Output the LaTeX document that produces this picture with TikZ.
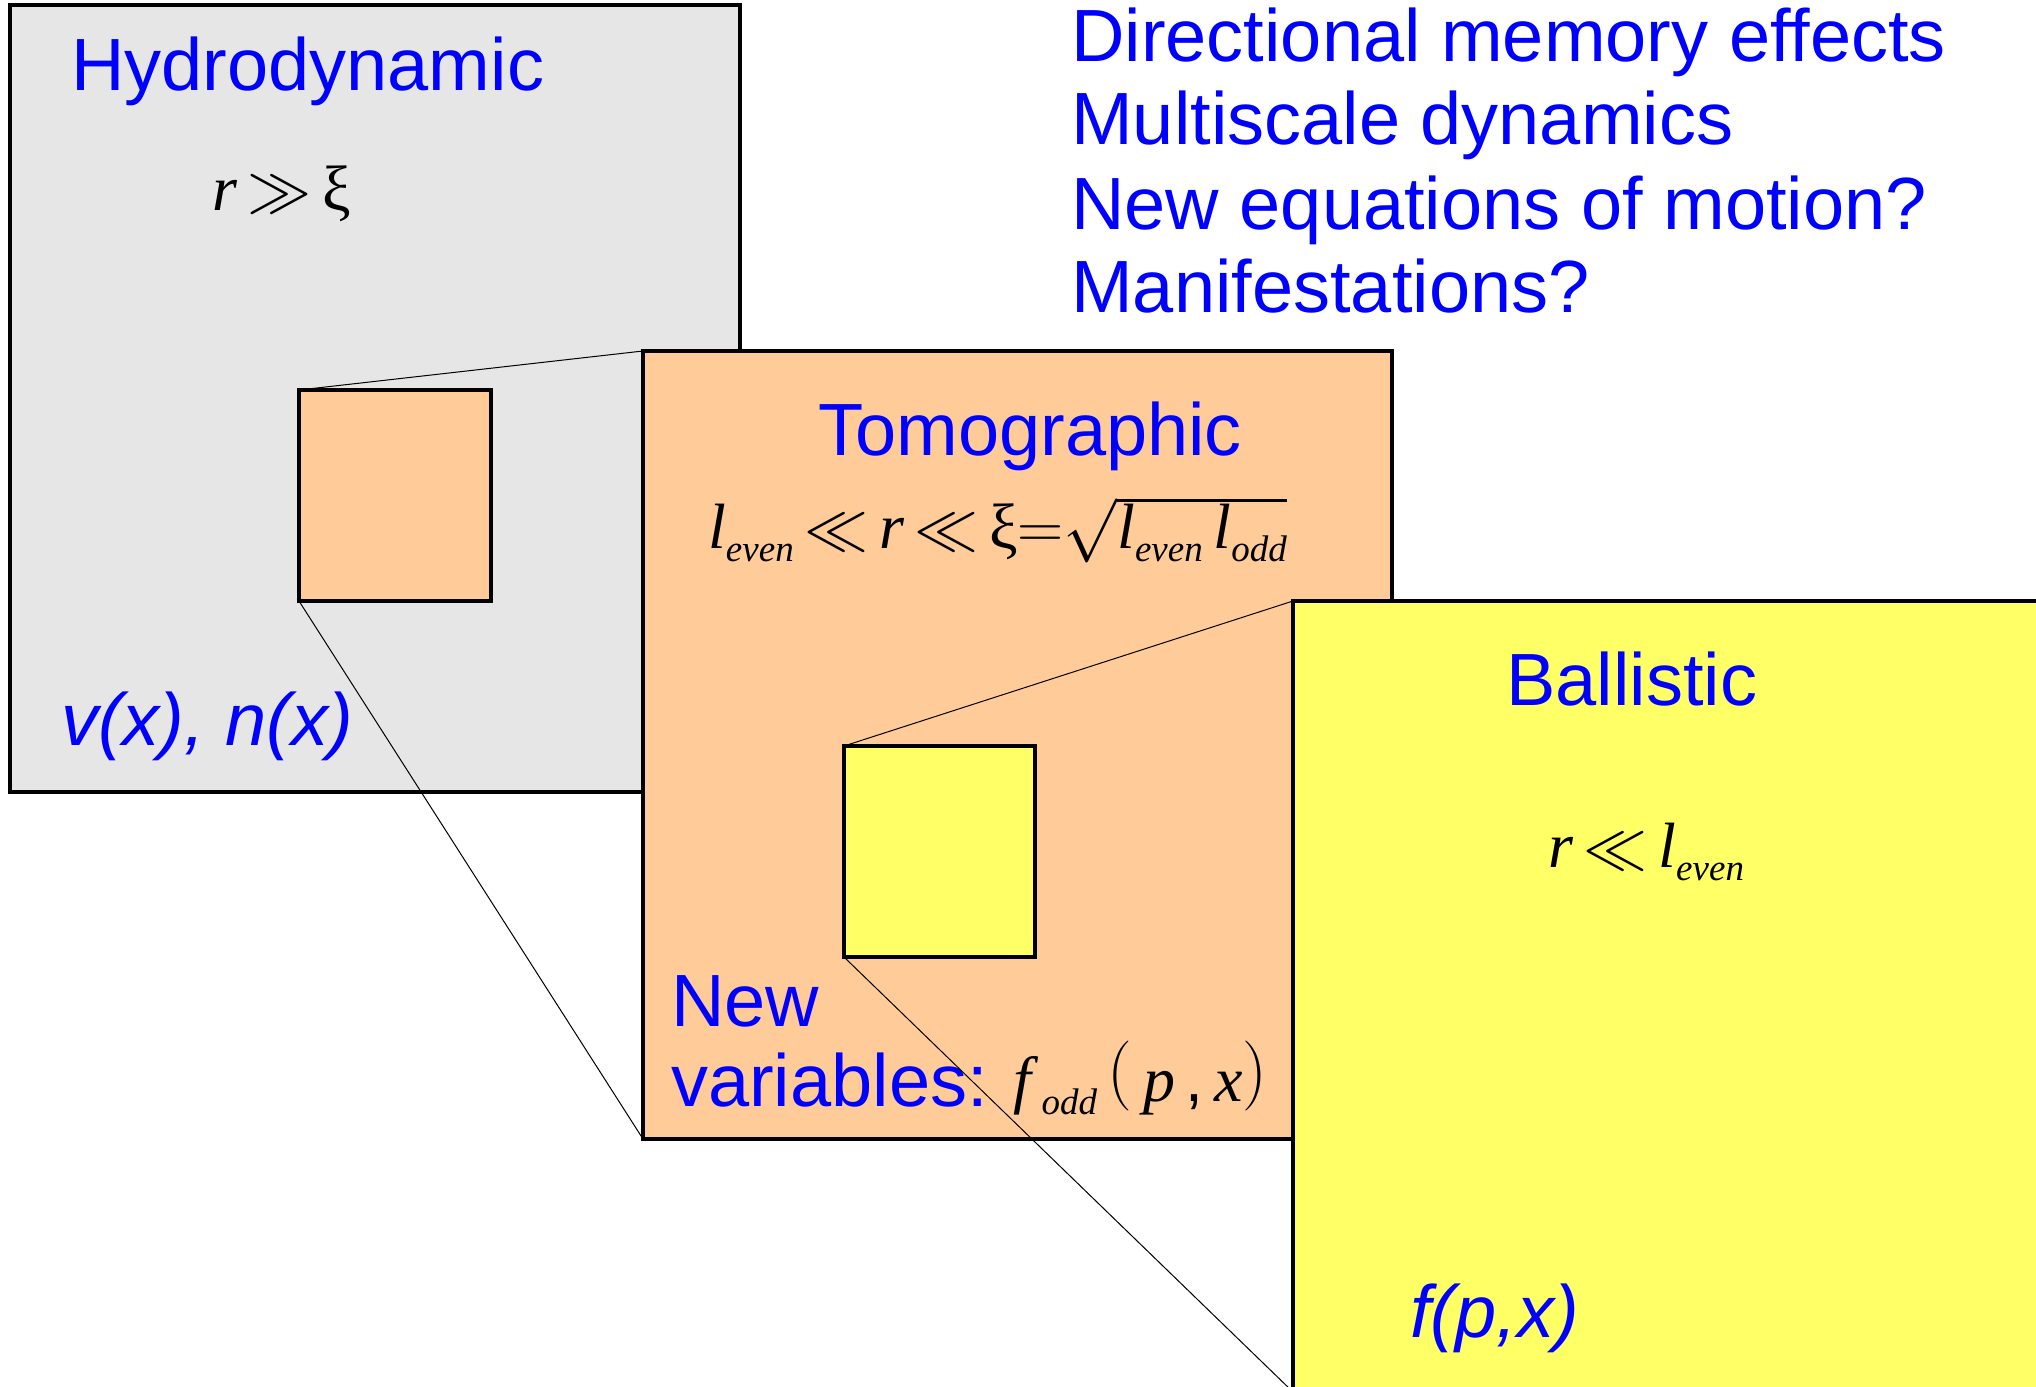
\RequirePackage{fix-cm}
\documentclass[tikz,border=0pt]{standalone}
\usepackage[no-math]{fontspec}
\setmainfont{Liberation Sans}
\newfontfamily\tnr{Liberation Serif}
\definecolor{hgray}{HTML}{E6E6E6}
\definecolor{torange}{HTML}{FFCC99}
\definecolor{byellow}{HTML}{FFFF66}
\definecolor{lblue}{HTML}{0000FF}
\newcommand{\mi}[1]{{\tnr\itshape #1}}
\newcommand{\lsub}[1]{\raisebox{-13pt}{\fontsize{37}{37}\selectfont\tnr\itshape #1}}
\newcommand{\tallparen}[1]{\raisebox{8pt}{\fontsize{70}{70}\selectfont$#1$}}
\tikzset{
  panel/.style={draw=black, line width=3.5pt, inner sep=0pt, outer sep=0pt, anchor=north west},
  zoomline/.style={draw=black, line width=1pt},
  title/.style={text=lblue, font=\fontsize{74}{74}\selectfont, anchor=base west, inner sep=0pt},
  varlabel/.style={text=lblue, font=\fontsize{74}{74}\selectfont\itshape, anchor=base west, inner sep=0pt},
  formula/.style={text=black, font=\fontsize{64}{64}\selectfont, anchor=base west, inner sep=0pt},
}
\begin{document}
\begin{tikzpicture}[x=1pt,y=-1pt]
\useasboundingbox (0,0) rectangle (2036,1386);
\clip (0,0) rectangle (2036,1386);
% Hydrodynamic panel
\node[panel, fill=hgray, minimum width=730pt, minimum height=787pt] (hydro) at (10,5) {};
\node[title] (hydrotitle) at (71,91) {Hydrodynamic};
\node[formula] (hydroform) at (212,210) {\mi{r}\,$\gg$\,{\tnr ξ}};
\node[varlabel] (hydrovar) at (61,745) {v(x), n(x)};
\node[panel, fill=torange, minimum width=192pt, minimum height=211pt] (hsmall) at (299,390) {};
% Tomographic panel
\node[panel, fill=torange, minimum width=749pt, minimum height=788pt] (tomo) at (643,351) {};
\draw[zoomline] (hsmall.north west) -- (tomo.north west);
\draw[zoomline] (hsmall.south west) -- (tomo.south west);
\node[title] (tomotitle) at (818,455) {Tomographic};
\node[formula] (tomoform) at (708,548) {\mi{l}\lsub{even}\,$\ll$\,\mi{r}\,$\ll$\,{\tnr ξ}$=$$\sqrt{\mbox{\mi{l}\lsub{even}\,\mi{l}\lsub{odd}}}$};
\node[title] (tomonew) at (671,1026) {New};
\node[title] (tomovar) at (671,1106) {variables:};
\node[formula] (tomofodd) at (1013,1101) {\mi{f}\,\lsub{odd}\,\tallparen{(}\,\mi{p}\,,\,\mi{x}\tallparen{)}};
\node[panel, fill=byellow, minimum width=191pt, minimum height=211pt] (tsmall) at (844,746) {};
% Ballistic panel
\node[panel, fill=byellow, minimum width=752pt, minimum height=791pt] (ball) at (1293,601) {};
\draw[zoomline] (tsmall.north west) -- (ball.north west);
\draw[zoomline] (tsmall.south west) -- (ball.south west);
\node[title] (balltitle) at (1506,705) {Ballistic};
\node[formula] (ballform) at (1548,867) {\mi{r}\,$\ll$\,\mi{l}\lsub{even}};
\node[varlabel] (ballvar) at (1410,1337) {f(p,x)};
% Questions
\node[title] (q1) at (1071,62) {Directional memory effects};
\node[title] (q2) at (1071,145) {Multiscale dynamics};
\node[title] (q3) at (1071,229) {New equations of motion?};
\node[title] (q4) at (1071,312) {Manifestations?};
\end{tikzpicture}
\end{document}
